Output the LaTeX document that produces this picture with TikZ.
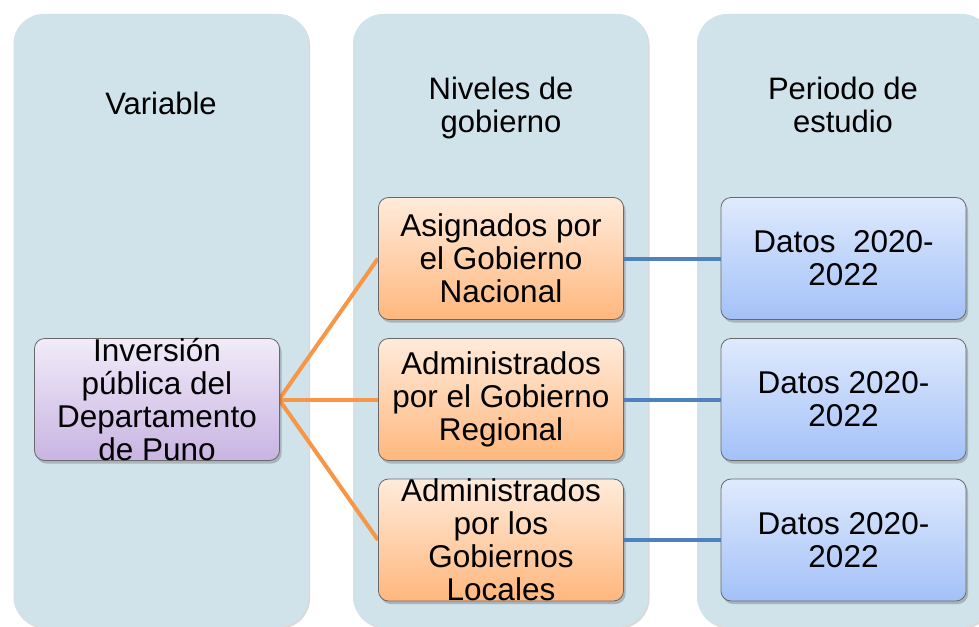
\documentclass[tikz,border=0pt]{standalone}
\usepackage{fontspec}
\setmainfont{Liberation Sans}
\usetikzlibrary{shadows}
\definecolor{panelc}{RGB}{208,226,234}
\definecolor{ortop}{RGB}{255,235,219}
\definecolor{orbot}{RGB}{255,183,125}
\definecolor{putop}{RGB}{241,235,249}
\definecolor{pubot}{RGB}{200,180,226}
\definecolor{bltop}{RGB}{223,234,253}
\definecolor{blbot}{RGB}{163,193,248}
\definecolor{borderc}{RGB}{105,105,105}
\definecolor{oline}{RGB}{247,150,70}
\definecolor{bline}{RGB}{79,129,189}
\tikzset{
  panel/.style={fill=panelc, draw=none, rounded corners=30pt, minimum width=295pt, minimum height=613pt, inner sep=0pt,
    drop shadow={shadow xshift=1.5pt, shadow yshift=-1.5pt, opacity=0.25, fill=black!60}},
  boxbase/.style={draw=borderc, line width=0.8pt, rounded corners=10pt, minimum width=245pt, minimum height=122pt, inner sep=0pt,
    drop shadow={shadow xshift=2pt, shadow yshift=-3pt, opacity=0.3, fill=black!70}},
  purplebox/.style={boxbase, top color=putop, bottom color=pubot},
  orangebox/.style={boxbase, top color=ortop, bottom color=orbot},
  bluebox/.style={boxbase, top color=bltop, bottom color=blbot},
  txt/.style={align=center, font=\fontsize{31.5}{33}\selectfont, inner sep=0pt},
  head/.style={align=center, font=\fontsize{31}{33}\selectfont, inner sep=0pt},
  oconn/.style={draw=oline, line width=4pt},
  bconn/.style={draw=bline, line width=4pt}
}
\begin{document}
\begin{tikzpicture}[x=1pt,y=-1pt]
\useasboundingbox (0,0) rectangle (979,626);
\clip (0,0) rectangle (979,626);
% panels
\node[panel] (p1) at (161,320.5) {};
\node[panel] (p2) at (500.5,320.5) {};
\node[panel] (p3) at (844.5,320.5) {};
% headers
\node[head] (h1) at (161,103) {Variable};
\node[head] (h2) at (501,107.5) {Niveles de\\gobierno};
\node[head] (h3) at (843,105) {Periodo de\\estudio};
% connectors
\coordinate (vE) at (279,399.5);
\draw[oconn] (vE) -- (378,258.5) coordinate (o1W);
\draw[oconn] (vE) -- (378,399.5) coordinate (o2W);
\draw[oconn] (vE) -- (378,540) coordinate (o3W);
% boxes
\node[purplebox] (v) at (157,399.5) {};
\node[orangebox] (o1) at (501,258.5) {};
\node[orangebox] (o2) at (501,399.5) {};
\node[orangebox] (o3) at (501,540) {};
\node[bluebox] (b1) at (843.5,258.5) {};
\node[bluebox] (b2) at (843.5,399.5) {};
\node[bluebox] (b3) at (843.5,540) {};
\draw[bconn] (o1.east) -- (b1.west);
\draw[bconn] (o2.east) -- (b2.west);
\draw[bconn] (o3.east) -- (b3.west);
% texts
\node[txt] (tv) at (v.center) {Inversión\\pública del\\Departamento\\de Puno};
\node[txt] (to1) at (o1.center) {Asignados por\\el Gobierno\\Nacional};
\node[txt] (to2) at (o2.center) {Administrados\\por el Gobierno\\Regional};
\node[txt] (to3) at (o3.center) {Administrados\\por los\\Gobiernos\\Locales};
\node[txt] (tb1) at (b1.center) {Datos\ \ 2020-\\2022};
\node[txt] (tb2) at (b2.center) {Datos 2020-\\2022};
\node[txt] (tb3) at (b3.center) {Datos 2020-\\2022};
\end{tikzpicture}
\end{document}
